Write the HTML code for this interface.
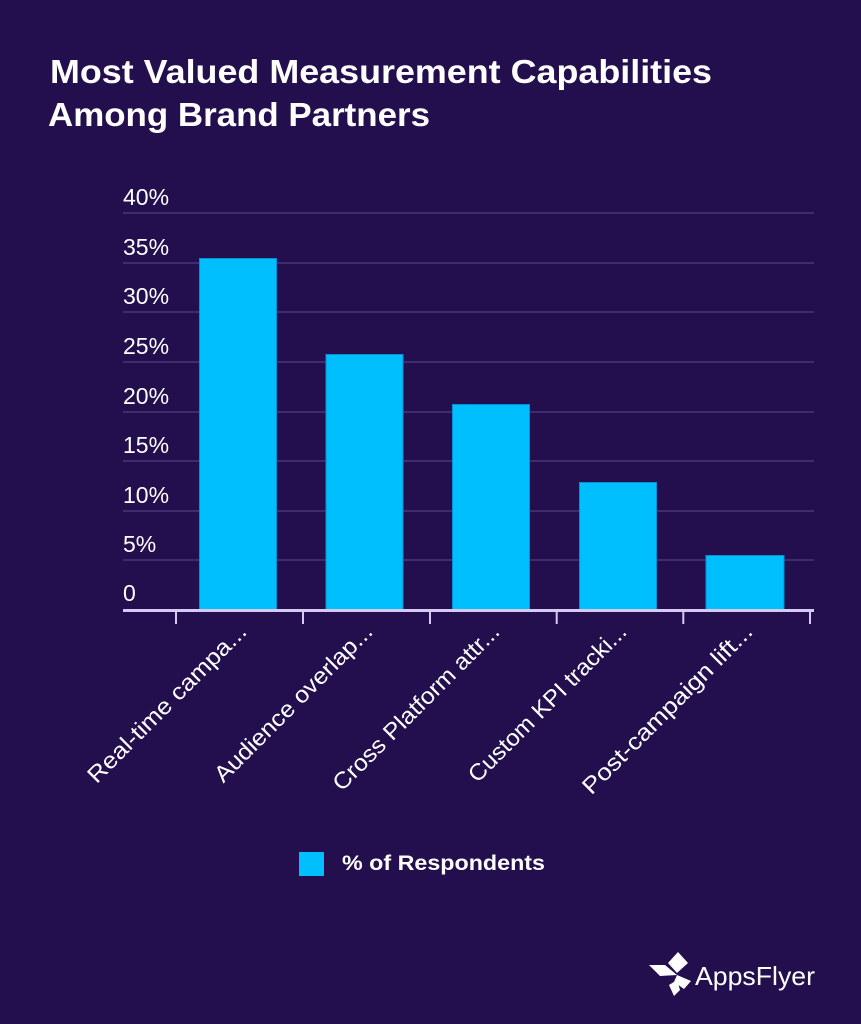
<!DOCTYPE html>
<html>
<head>
<meta charset="utf-8">
<style>
  html,body{margin:0;padding:0;background:#230f4d;}
  svg{display:block;}
</style>
</head>
<body>
<svg width="861" height="1024" viewBox="0 0 861 1024" xmlns="http://www.w3.org/2000/svg">
  <rect x="0" y="0" width="861" height="1024" fill="#230f4d"/>

  <!-- Title -->
  <g font-family="Liberation Sans, sans-serif" font-weight="bold" fill="#ffffff" font-size="33">
    <text x="50" y="83" textLength="662" lengthAdjust="spacingAndGlyphs">Most Valued Measurement Capabilities</text>
    <text x="48" y="126" textLength="382" lengthAdjust="spacingAndGlyphs">Among Brand Partners</text>
  </g>

  <!-- Gridlines -->
  <g stroke="#463679" stroke-width="1.5">
    <line x1="123" y1="213" x2="814" y2="213"/>
    <line x1="123" y1="263" x2="814" y2="263"/>
    <line x1="123" y1="312" x2="814" y2="312"/>
    <line x1="123" y1="362" x2="814" y2="362"/>
    <line x1="123" y1="412" x2="814" y2="412"/>
    <line x1="123" y1="461" x2="814" y2="461"/>
    <line x1="123" y1="511" x2="814" y2="511"/>
    <line x1="123" y1="560" x2="814" y2="560"/>
  </g>

  <!-- Y labels -->
  <g font-family="Liberation Sans, sans-serif" fill="#ffffff" font-size="23">
    <text x="123" y="205">40%</text>
    <text x="123" y="255">35%</text>
    <text x="123" y="304">30%</text>
    <text x="123" y="354">25%</text>
    <text x="123" y="404">20%</text>
    <text x="123" y="453">15%</text>
    <text x="123" y="503">10%</text>
    <text x="123" y="552">5%</text>
    <text x="123" y="601">0</text>
  </g>

  <!-- Bars -->
  <g fill="#00bfff" stroke="#0a8fd6" stroke-width="1">
    <rect x="199.5" y="258.5" width="77" height="352"/>
    <rect x="326" y="354.5" width="77" height="256"/>
    <rect x="452.5" y="404.5" width="77" height="206"/>
    <rect x="579.5" y="482.5" width="77" height="128"/>
    <rect x="706" y="555.5" width="78" height="55"/>
  </g>

  <!-- Axis -->
  <rect x="123" y="609" width="691" height="3" fill="#d6c9f6"/>
  <g stroke="#d6c9f6" stroke-width="2">
    <line x1="176" y1="612" x2="176" y2="624"/>
    <line x1="303" y1="612" x2="303" y2="624"/>
    <line x1="430" y1="612" x2="430" y2="624"/>
    <line x1="556.7" y1="612" x2="556.7" y2="624"/>
    <line x1="683.3" y1="612" x2="683.3" y2="624"/>
    <line x1="810" y1="612" x2="810" y2="624"/>
  </g>

  <!-- X labels -->
  <g font-family="Liberation Sans, sans-serif" fill="#ffffff" font-size="23" text-anchor="end">
    <text transform="translate(248,633) rotate(-45)" textLength="214" lengthAdjust="spacingAndGlyphs">Real-time campa...</text>
    <text transform="translate(374,633) rotate(-45)" textLength="213" lengthAdjust="spacingAndGlyphs">Audience overlap...</text>
    <text transform="translate(501,633) rotate(-45)" textLength="225" lengthAdjust="spacingAndGlyphs">Cross Platform attr...</text>
    <text transform="translate(628,633) rotate(-45)" textLength="213" lengthAdjust="spacingAndGlyphs">Custom KPI tracki...</text>
    <text transform="translate(754,633) rotate(-45)" textLength="230" lengthAdjust="spacingAndGlyphs">Post-campaign lift...</text>
  </g>

  <!-- Legend -->
  <rect x="299" y="852" width="25" height="24" fill="#00bfff"/>
  <text x="342" y="870" font-family="Liberation Sans, sans-serif" font-weight="bold" font-size="21" fill="#ffffff" textLength="203" lengthAdjust="spacingAndGlyphs">% of Respondents</text>

  <!-- Logo -->
  <g fill="#ffffff">
    <polygon points="678,952 688,963 677,973 668,963"/>
    <polygon points="649,965 665,965 677,975 660,976"/>
    <polygon points="677,975 691,981 684,989 674,982"/>
    <polygon points="669,985 677,980 680,990 674,996"/>
  </g>
  <text x="695" y="985" font-family="Liberation Sans, sans-serif" font-size="26" fill="#ffffff" textLength="120" lengthAdjust="spacingAndGlyphs">AppsFlyer</text>
</svg>
</body>
</html>
